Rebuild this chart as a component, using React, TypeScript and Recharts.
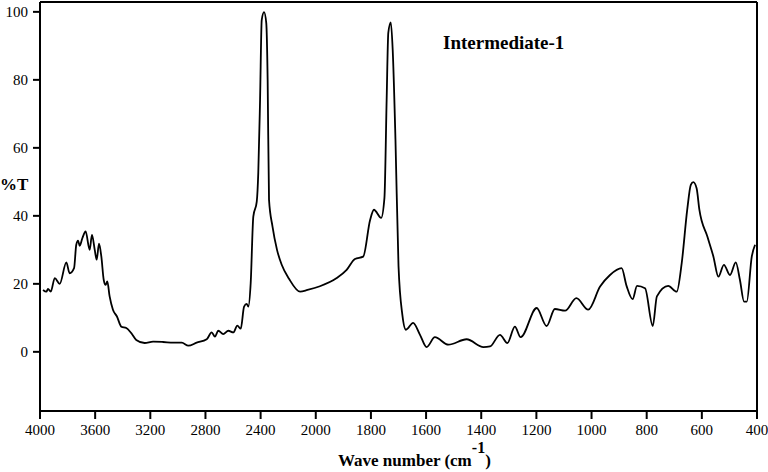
import React from 'react'
import { LineChart, Line, XAxis, YAxis, ReferenceLine } from 'recharts'

// IR spectrum: wavenumber (cm-1) and %T
const WAVENUMBERS = [
    3978, 3954, 3942, 3922, 3893, 3857, 3809, 3785, 3753, 3737, 3724, 3712, 3693, 3669, 3640, 3623, 3603, 3589, 3572, 3555,
    3538, 3524, 3512, 3495, 3471, 3442, 3410, 3374, 3338, 3302, 3241, 3180, 3108, 3033, 2972, 2924, 2864, 2791, 2755, 2731,
    2707, 2671, 2634, 2598, 2569, 2544, 2520, 2501, 2489, 2472, 2453, 2428, 2417, 2404, 2392, 2375, 2359, 2349, 2339, 2314,
    2281, 2247, 2194, 2114, 2060, 1985, 1924, 1888, 1858, 1828, 1803, 1789, 1763, 1751, 1743, 1737, 1728, 1721, 1711, 1700,
    1686, 1673, 1647, 1622, 1598, 1568, 1519, 1453, 1392, 1368, 1332, 1305, 1278, 1257, 1199, 1163, 1133, 1096, 1055, 1012,
    969, 933, 891, 873, 851, 835, 806, 778, 763, 722, 691, 673, 653, 640, 631, 619, 609, 580, 558, 540,
    520, 498, 477, 462, 447, 437, 419, 407,
]
const TRANSMITTANCE = [
    18.2, 17.7, 18.5, 17.7, 21.7, 20.0, 26.3, 23.1, 24.6, 31.5, 32.7, 31.2, 33.4, 35.4, 30.0, 34.4, 30.0, 27.1, 31.8, 28.0,
    21.2, 19.7, 20.7, 16.3, 12.4, 10.4, 7.4, 7.0, 5.5, 3.5, 2.6, 3.0, 2.9, 2.7, 2.7, 1.8, 2.7, 3.7, 5.7, 4.5,
    6.2, 5.2, 6.2, 5.7, 7.7, 6.8, 13.3, 14.1, 13.3, 20.2, 39.8, 44.2, 52.6, 74.1, 97.6, 99.9, 96.7, 80.0, 44.7, 36.9,
    30.0, 25.6, 21.5, 17.7, 18.2, 19.3, 21.7, 24.1, 27.3, 28.0, 38.8, 41.8, 39.4, 45.3, 74.1, 93.8, 96.9, 88.8, 62.4, 25.3,
    10.9, 6.5, 8.5, 5.0, 1.4, 4.3, 2.1, 3.7, 1.4, 1.6, 5.0, 2.6, 7.4, 4.3, 12.9, 7.6, 12.6, 12.1, 15.8, 12.4,
    19.2, 22.6, 24.6, 19.4, 15.5, 19.4, 18.7, 7.6, 16.3, 19.4, 17.7, 26.1, 41.8, 49.1, 49.9, 48.1, 41.8, 33.9, 28.0, 22.1,
    25.6, 22.6, 26.3, 21.2, 14.8, 14.8, 28.0, 31.5,
]
const X_TICKS = [4000, 3600, 3200, 2800, 2400, 2000, 1800, 1600, 1400, 1200, 1000, 800, 600, 400]
const Y_TICKS = [0, 20, 40, 60, 80, 100]

// the scan halves the scale above 2000 cm-1, so map wavenumber to a linear axis unit
const toAxis = (w: number) => (w >= 2000 ? (4000 - w) / 2 : 1000 + (2000 - w))
const fromAxis = (u: number) => (u <= 1000 ? 4000 - 2 * u : 2000 - (u - 1000))

const data = WAVENUMBERS.map((w, i) => ({ u: toAxis(w), t: TRANSMITTANCE[i] }))

const X_DOMAIN = [0, 2600]
const Y_DOMAIN = [-17.4, 102.9]

const FONT = 'Liberation Serif, DejaVu Serif, serif'
const tickStyle = { fill: '#000', fontSize: 15, fontFamily: FONT }

export default function App() {
    return (
        <div style={{ position: 'absolute', left: 0, top: 0, width: 768, height: 472, background: '#fff', fontFamily: FONT }}>
            <LineChart width={768} height={472} data={data} margin={{ top: 2, right: 11, bottom: 0, left: 0 }} style={{ fontFamily: FONT }}>
                <XAxis
                    dataKey="u"
                    type="number"
                    domain={X_DOMAIN}
                    ticks={X_TICKS.map(toAxis)}
                    interval={0}
                    tickFormatter={u => String(Math.round(fromAxis(u)))}
                    height={61}
                    tickSize={8}
                    tickMargin={5}
                    stroke="#000"
                    strokeWidth={2}
                    tick={tickStyle}
                />
                <YAxis
                    type="number"
                    domain={Y_DOMAIN}
                    ticks={Y_TICKS}
                    interval={0}
                    width={40}
                    tickSize={7}
                    tickMargin={5}
                    stroke="#000"
                    strokeWidth={2}
                    tick={tickStyle}
                />
                {/* frame: top and right edges */}
                <ReferenceLine y={Y_DOMAIN[1]} stroke="#000" strokeWidth={2} />
                <ReferenceLine x={X_DOMAIN[1]} stroke="#000" strokeWidth={2} />
                <Line dataKey="t" type="monotone" stroke="#000" strokeWidth={1.8} dot={false} isAnimationActive={false} />
            </LineChart>
            <div style={{ position: 'absolute', left: 0, top: 175, fontSize: 17, fontWeight: 'bold', lineHeight: '20px' }}>%T</div>
            <div style={{ position: 'absolute', left: 443, top: 33, fontSize: 19, fontWeight: 'bold', lineHeight: '20px' }}>Intermediate-1</div>
            <div style={{ position: 'absolute', left: 338, top: 451, fontSize: 17, fontWeight: 'bold', lineHeight: '20px', whiteSpace: 'nowrap' }}>
                Wave number (cm<span style={{ position: 'relative', top: -13, fontSize: 16 }}>-1</span>)
            </div>
        </div>
    )
}
